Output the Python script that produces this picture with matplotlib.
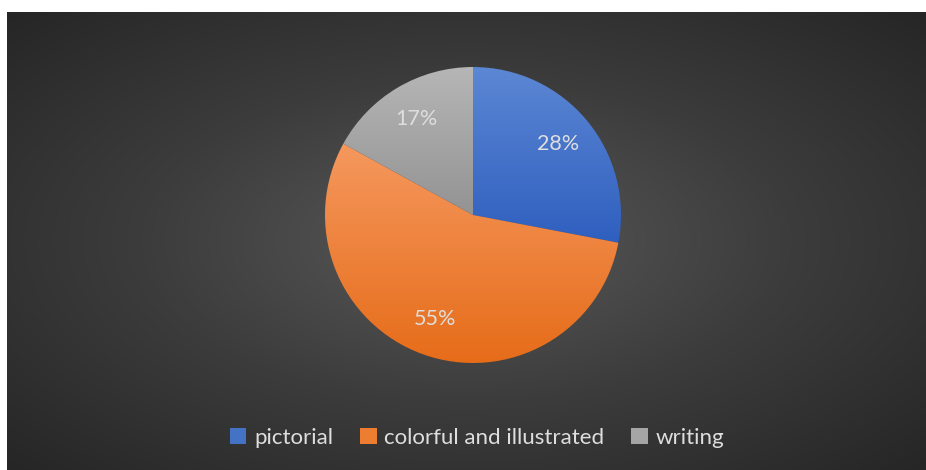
import matplotlib

matplotlib.use("Agg")
import matplotlib.pyplot as plt
import numpy as np
from matplotlib.colors import LinearSegmentedColormap
from matplotlib.patches import Patch

categories = ["pictorial", "colorful and illustrated", "writing"]
shares = [28, 55, 17]

# top / bottom colours of each slice gradient
top_colors = ["#5c87d4", "#f5985e", "#b6b6b6"]
bottom_colors = ["#2f5fbf", "#e66c19", "#939393"]
legend_colors = ["#4472c4", "#ed7d31", "#a5a5a5"]

W, H = 926, 470
fig = plt.figure(figsize=(W / 100, H / 100), dpi=100)
fig.patch.set_facecolor("white")

# ── dark radial-gradient chart area ──
bg = fig.add_axes([7 / W, 0, (W - 7) / W, (H - 12) / H])
bg.set_axis_off()
yy, xx = np.mgrid[-1:1:300j, -1:1:600j]
rr = np.sqrt(xx ** 2 + yy ** 2) / np.sqrt(2)
bg_cmap = LinearSegmentedColormap.from_list("bg", ["#595959", "#3c3c3c", "#262626"])
bg.imshow(rr, cmap=bg_cmap, vmin=0, vmax=1, extent=[0, 1, 0, 1], aspect="auto")
bg.set_xlim(0, 1)
bg.set_ylim(0, 1)

# ── pie ──
cx, cy, r = 473, H - 215, 148
ax = fig.add_axes([(cx - r) / W, (cy - r) / H, 2 * r / W, 2 * r / H])
ax.set_axis_off()
wedges, texts, autotexts = ax.pie(
    shares,
    startangle=90,
    counterclock=False,
    radius=1,
    autopct=lambda p: f"{p:.0f}%",
    pctdistance=0.75,
    textprops=dict(color="#dedede", fontsize=15.5, family="Lato"),
)

grad = np.linspace(0, 1, 256).reshape(-1, 1)
for w, c_top, c_bot in zip(wedges, top_colors, bottom_colors):
    w.set_facecolor("none")
    w.set_edgecolor("none")
    ext = w.get_path().get_extents()
    cm = LinearSegmentedColormap.from_list("g", [c_bot, c_top])
    im = ax.imshow(grad, cmap=cm, origin="lower", aspect="auto",
                   extent=[ext.x0, ext.x1, ext.y0, ext.y1], zorder=1)
    im.set_clip_path(w)
for t in autotexts:
    t.set_zorder(5)
ax.set_xlim(-1, 1)
ax.set_ylim(-1, 1)

# ── legend ──
handles = [Patch(facecolor=c, edgecolor="none") for c in legend_colors]
fig.legend(handles, categories, loc="center", bbox_to_anchor=(477 / W, 1 - 438 / H),
           ncol=3, frameon=False, handlelength=0.75, handleheight=0.75,
           handletextpad=0.35, columnspacing=1.2,
           prop=dict(family="Lato", size=16), labelcolor="#dedede")

fig.savefig("out.png", dpi=100)
